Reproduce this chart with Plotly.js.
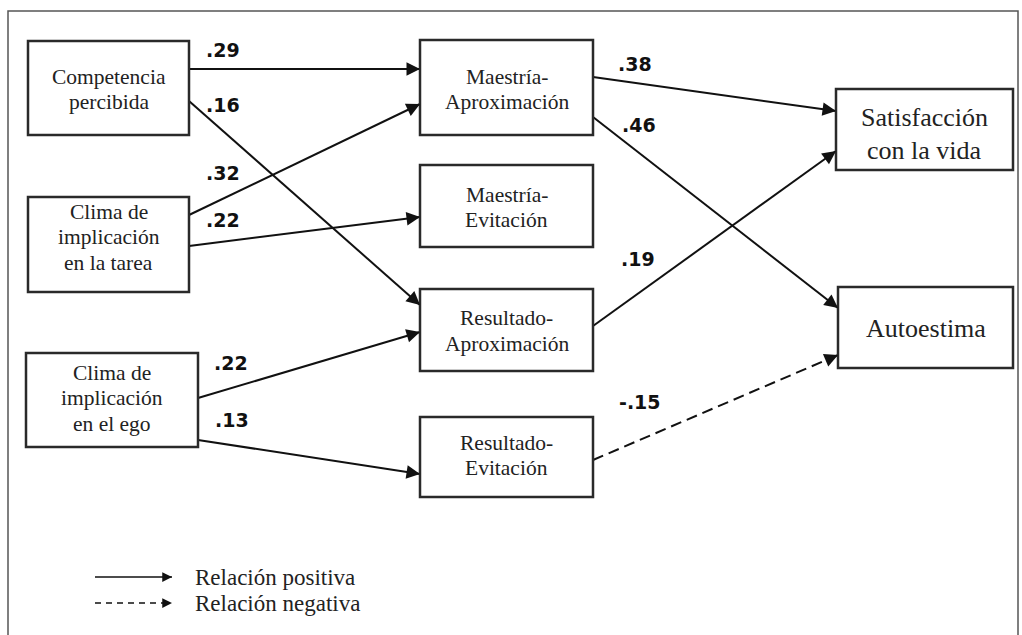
<!DOCTYPE html>
<html><head><meta charset="utf-8">
<script src="https://cdn.plot.ly/plotly-3.0.1.min.js"></script>
<style>html,body{margin:0;padding:0;background:#fff}</style>
</head><body><div id="chart" style="width:1022px;height:635px"></div>
<script>
// ---------------- DATA ----------------
const nodeIds    = ['comp','tarea','ego','mAp','mEv','rAp','rEv','sat','aut'];
const nodeLabels = ['Competencia<br>percibida','Clima de<br>implicación<br>en la tarea','Clima de<br>implicación<br>en el ego',
                    'Maestría-<br>Aproximación','Maestría-<br>Evitación','Resultado-<br>Aproximación','Resultado-<br>Evitación',
                    'Satisfacción<br>con la vida','Autoestima'];
const pathFrom  = ['comp','comp','tarea','tarea','ego','ego','mAp','mAp','rAp','rEv'];
const pathTo    = ['mAp','rAp','mAp','mEv','rAp','rEv','sat','aut','sat','aut'];
const pathCoef  = [0.29, 0.16, 0.32, 0.22, 0.22, 0.13, 0.38, 0.46, 0.19, -0.15];
const legendLabels = ['Relación positiva','Relación negativa'];

// ---------------- LAYOUT (positions / sizes / styles) ----------------
const boxX0 = [28, 28, 26, 420, 420, 420, 420, 836, 838];
const boxX1 = [189,189,198, 593, 593, 593, 593,1013,1013];
const boxY0 = [41, 197,353, 40, 165, 289, 417, 89, 287];
const boxY1 = [135,292,447, 135,247, 371, 497, 170, 368];
const textCY = [89.5,237,398, 89.5,207.5,331,455.5, 133.5,328];
const textSize = [21.5,21.5,21.5,21.5,21.5,21.5,21.5,26,26];
const lineGap  = [25.5,25.5,25.5,25.5,25.5,25.5,25.5,33,33];
const srcY = [69,101,215,246,398,440,77,117,326,460];
const dstY = [69,305,104,217,332,474,111,308,151,355];
const labX = [223,223,223,223,231,232,635,639,638,640];
const labY = [50,105,173,220,363,420,64,125,259,402];

const idx = id => nodeIds.indexOf(id);
const fmt = v => v.toFixed(2).replace('0.', '.');

const traces = [];
const shapes = [];
const annotations = [];

// frame
shapes.push({type:'rect', xref:'x', yref:'y', x0:8, x1:1018, y0:11, y1:660,
  line:{color:'#555', width:1.5}, fillcolor:'rgba(0,0,0,0)', layer:'below'});

// boxes + text
nodeIds.forEach((id,i)=>{
  shapes.push({type:'rect', xref:'x', yref:'y', x0:boxX0[i], x1:boxX1[i], y0:boxY0[i], y1:boxY1[i],
    line:{color:'#2a2a2a', width:2.5}, fillcolor:'#ffffff', layer:'above'});
  const lines = nodeLabels[i].split('<br>');
  const cx = (boxX0[i]+boxX1[i])/2;
  lines.forEach((t,k)=>{
    annotations.push({x:cx, y:textCY[i] + (k-(lines.length-1)/2)*lineGap[i], xref:'x', yref:'y',
      text:t, showarrow:false, xanchor:'center', yanchor:'middle',
      font:{family:'"Liberation Serif","Times New Roman",serif', size:textSize[i], color:'#222'}});
  });
});

function arrowHead(x0,y0,x1,y1,w,len,sz){
  const dx=x1-x0, dy=y1-y0, L=Math.hypot(dx,dy);
  annotations.push({x:x1, y:y1, ax:x1-dx/L*len, ay:y1-dy/L*len, xref:'x', yref:'y', axref:'x', ayref:'y',
    text:'', showarrow:true, arrowhead:2, arrowsize:sz, arrowwidth:w, arrowcolor:'#111', standoff:0, startstandoff:0});
}

// paths
pathFrom.forEach((f,j)=>{
  const s = idx(f), t = idx(pathTo[j]);
  const x0 = boxX1[s], y0 = srcY[j], x1 = boxX0[t], y1 = dstY[j];
  const neg = pathCoef[j] < 0;
  traces.push({x:[x0,x1], y:[y0,y1], mode:'lines', hoverinfo:'skip', showlegend:false,
    line:{color:'#111', width:2, dash: neg ? '11px,6px' : 'solid'}});
  arrowHead(x0,y0,x1,y1,2,10,1.35);
  annotations.push({x:labX[j], y:labY[j], xref:'x', yref:'y', text:'<b>'+fmt(pathCoef[j])+'</b>', showarrow:false,
    xanchor:'center', yanchor:'middle', font:{family:'"DejaVu Sans",Verdana,sans-serif', size:19, color:'#111'}});
});

// legend
const legY = [577, 603];
legendLabels.forEach((lab,k)=>{
  traces.push({x:[95,172], y:[legY[k],legY[k]], mode:'lines', hoverinfo:'skip', showlegend:false,
    line:{color:'#111', width:1.5, dash: k===0 ? 'solid' : '6px,5px'}});
  arrowHead(95,legY[k],172,legY[k],1.5,7,1.3);
  annotations.push({x:193, y:legY[k], xref:'x', yref:'y', text:lab, showarrow:false, xanchor:'left', yanchor:'middle',
    font:{family:'"Liberation Serif","Times New Roman",serif', size:23, color:'#222'}});
});

const layout = {
  width:1022, height:635, margin:{l:0,r:0,t:0,b:0},
  paper_bgcolor:'#fff', plot_bgcolor:'#fff',
  xaxis:{range:[0,1022], visible:false, fixedrange:true},
  yaxis:{range:[635,0], visible:false, fixedrange:true},
  shapes:shapes, annotations:annotations, showlegend:false
};
Plotly.newPlot('chart', traces, layout, {displayModeBar:false, staticPlot:true});
</script></body></html>
